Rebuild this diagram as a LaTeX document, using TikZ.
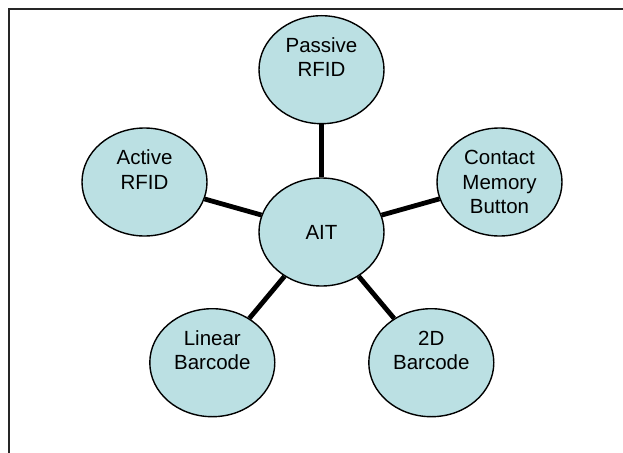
\documentclass[tikz,border=0pt]{standalone}
\usepackage{fontspec}
\setmainfont{Liberation Sans}
\usetikzlibrary{shapes.geometric}
% line strut: full baseline height, placed so caps sit centred
\newcommand\lnstrut{\rule[-5.25pt]{0pt}{24.5pt}}
\definecolor{bubble}{RGB}{187,224,227}
\tikzset{
  bubble/.style={ellipse, draw=black, line width=1.4pt, fill=bubble,
    minimum width=125pt, minimum height=108pt, inner sep=0pt,
    align=center, font=\fontsize{20.5}{24.5}\selectfont},
  spoke/.style={line width=4.8pt, black},
  frameline/.style={line width=2pt, black!85}
}
\begin{document}
\begin{tikzpicture}[x=1pt,y=-1pt]
  \useasboundingbox (0,0) rectangle (623,452);
  % open frame: left and top edges only
  \draw[frameline] (9.3,453) -- (9.3,8.7) -- (624,8.7);

  \node[bubble] (ait)     at (321.5,232)   {\lnstrut AIT};
  \node[bubble] (passive) at (321.5,69.7)  {\lnstrut Passive\\\lnstrut RFID\\\lnstrut};
  \node[bubble] (active)  at (144.5,182)   {\lnstrut Active\\\lnstrut RFID\\\lnstrut};
  \node[bubble] (contact) at (499.5,182)   {\lnstrut Contact\\\lnstrut Memory\\\lnstrut Button};
  \node[bubble] (linear)  at (212.3,362.7) {\lnstrut Linear\\\lnstrut Barcode\\\lnstrut};
  \node[bubble] (twod)    at (431.3,362.7) {\lnstrut 2D\\\lnstrut Barcode\\\lnstrut};

  \foreach \n in {passive,active,contact,linear,twod}
    \draw[spoke] (ait) -- (\n);
\end{tikzpicture}
\end{document}
